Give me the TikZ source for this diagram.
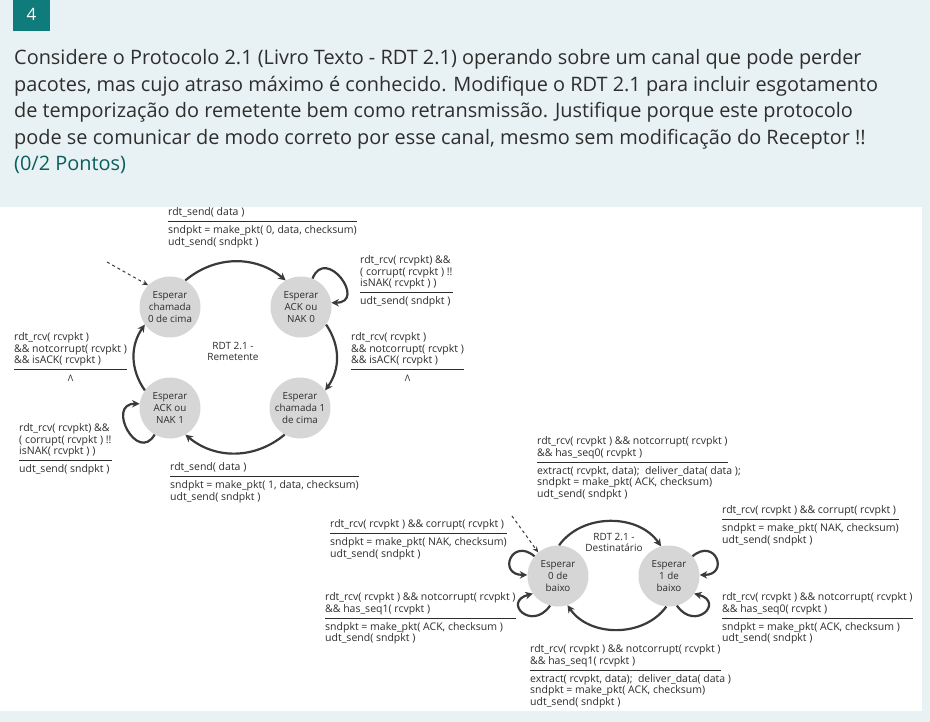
\documentclass[tikz,border=0pt]{standalone}
\usepackage{fontspec}
\setmainfont{Open Sans}
\newfontfamily\dgfont{Open Sans}
\usetikzlibrary{arrows.meta}
\definecolor{bgc}{HTML}{E8F1F3}
\definecolor{tealbox}{HTML}{0F7B7B}
\definecolor{qtext}{HTML}{2E2E2E}
\definecolor{ptsc}{HTML}{0B5E5E}
\definecolor{stfill}{HTML}{D6D6D6}
\definecolor{dg}{HTML}{2C2C2C}
\definecolor{ac}{HTML}{3A3A3A}
\setlength{\arrayrulewidth}{0.9pt}
\newcommand\evact[2]{\begin{tabular}{@{}l@{}}#1\\[1.8pt]\hline\noalign{\vskip3.6pt}#2\end{tabular}}
\newcommand\lamrow{\multicolumn{1}{@{}c@{}}{\fontsize{9}{10}\selectfont Λ}}
\begin{document}
\begin{tikzpicture}[x=1pt,y=1pt,
  qline/.style={anchor=base west,inner sep=0,text=qtext,font=\fontsize{19.9}{26}\selectfont},
  lbl/.style={anchor=north west,inner sep=0,text=dg,font=\dgfont\fontsize{10.5}{11.5}\selectfont},
  st/.style={circle,fill=stfill,minimum size=61pt,inner sep=0,align=center,text=dg,
    font=\dgfont\fontsize{9.8}{11.7}\selectfont},
  ctr/.style={align=center,text=dg,inner sep=0,font=\dgfont\fontsize{10}{11}\selectfont},
  arr/.style={draw=ac,line width=2.2pt,-{Stealth[length=7.5pt,width=7.5pt]}},
  darr/.style={draw=ac,line width=1pt,dashed,-{Stealth[length=6pt,width=5pt]}}]
\useasboundingbox (0,0) rectangle (930,-722);
\fill[bgc] (0,0) rectangle (930,-722);
\fill[white] (0,-207) rectangle (922,-711);
\fill[tealbox] (13,0) rectangle (50,-31);
\node[text=white,inner sep=0,font=\fontsize{17}{17}\selectfont] (num) at (31.5,-14) {4};
\node[qline] (q1) at (14,-65) {Considere o Protocolo 2.1 (Livro Texto - RDT 2.1) operando sobre um canal que pode perder};
\node[qline] (q2) at (14,-91.5) {pacotes, mas cujo atraso máximo é conhecido. Modifique o RDT 2.1 para incluir esgotamento};
\node[qline] (q3) at (14,-118) {de temporização do remetente bem como retransmissão. Justifique porque este protocolo};
\node[qline] (q4) at (14,-144.5) {pode se comunicar de modo correto por esse canal, mesmo sem modificação do Receptor !!};
\node[qline,text=ptsc] (q5) at (14,-171) {(0/2 Pontos)};

% ---------- Sender ----------
\node[st] (s0) at (170,-307) {Esperar\\chamada\\0 de cima};
\node[st] (s1) at (301,-307) {Esperar\\ACK ou\\NAK 0};
\node[st] (s2) at (170,-408) {Esperar\\ACK ou\\NAK 1};
\node[st] (s3) at (300,-408) {Esperar\\chamada 1\\de cima};
\node[ctr] (sc) at (233,-351) {RDT 2.1 -\\Remetente};
\coordinate (sinit) at (107,-262);
\draw[darr] (sinit) -- (s0.135);
\draw[arr] (s0.60) to[bend left=40] (s1.120);
\draw[arr] (s1.-35) to[bend left=35] (s3.35);
\draw[arr] (s3.-120) to[bend left=40] (s2.-60);
\draw[arr] (s2.145) to[bend left=35] (s0.-145);
\draw[arr] (s1.68) to[out=68,in=0,distance=36pt] (s1.8);
\draw[arr] (s2.-120) to[out=-120,in=180,distance=34pt] (s2.172);

\node[lbl] (l1) at (168,-207.6) {\evact{rdt\_send( data )}{sndpkt = make\_pkt( 0, data, checksum)\\udt\_send( sndpkt )}};
\node[lbl] (l2) at (360,-255.6) {\evact{rdt\_rcv( rcvpkt) \&\&\\( corrupt( rcvpkt ) !!\\isNAK( rcvpkt ) )}{udt\_send( sndpkt )}};
\node[lbl] (l3) at (14,-332.6) {\evact{rdt\_rcv( rcvpkt )\\\&\& notcorrupt( rcvpkt )\\\&\& isACK( rcvpkt )}{\lamrow}};
\node[lbl] (l4) at (351,-332.6) {\evact{rdt\_rcv( rcvpkt )\\\&\& notcorrupt( rcvpkt )\\\&\& isACK( rcvpkt )}{\lamrow}};
\node[lbl] (l5) at (19,-423.6) {\evact{rdt\_rcv( rcvpkt) \&\&\\( corrupt( rcvpkt ) !!\\isNAK( rcvpkt ) )}{udt\_send( sndpkt )}};
\node[lbl] (l6) at (170,-462.6) {\evact{rdt\_send( data )}{sndpkt = make\_pkt( 1, data, checksum)\\udt\_send( sndpkt )}};

% ---------- Receiver ----------
\node[st] (r0) at (558,-576) {Esperar\\0 de\\baixo};
\node[st] (r1) at (669,-576) {Esperar\\1 de\\baixo};
\node[ctr] (rc) at (614,-542) {RDT 2.1 -\\Destinatário};
\coordinate (rinit) at (512,-516);
\draw[darr] (rinit) -- (r0.130);
\draw[arr] (r0.88) to[bend left=55] (r1.105);
\draw[arr] (r1.-95) to[bend left=55] (r0.-72);
\draw[arr] (r0.140) to[out=140,in=180,distance=30pt] (r0.178);
\draw[arr] (r0.-105) to[out=-125,in=-165,distance=32pt] (r0.-145);
\draw[arr] (r1.40) to[out=40,in=0,distance=30pt] (r1.2);
\draw[arr] (r1.-75) to[out=-55,in=-15,distance=32pt] (r1.-35);

\node[lbl] (m1) at (537,-436.6) {\evact{rdt\_rcv( rcvpkt ) \&\& notcorrupt( rcvpkt )\\\&\& has\_seq0( rcvpkt )}{\rlap{extract( rcvpkt, data);\ \ deliver\_data( data );}\\sndpkt = make\_pkt( ACK, checksum)\\udt\_send( sndpkt )}};
\node[lbl] (m2) at (722,-505.6) {\evact{rdt\_rcv( rcvpkt ) \&\& corrupt( rcvpkt )}{sndpkt = make\_pkt( NAK, checksum)\\udt\_send( sndpkt )}};
\node[lbl] (m3) at (330,-519.6) {\evact{rdt\_rcv( rcvpkt ) \&\& corrupt( rcvpkt )}{sndpkt = make\_pkt( NAK, checksum)\\udt\_send( sndpkt )}};
\node[lbl] (m4) at (325,-592.6) {\evact{rdt\_rcv( rcvpkt ) \&\& notcorrupt( rcvpkt )\\\&\& has\_seq1( rcvpkt )}{sndpkt = make\_pkt( ACK, checksum )\\udt\_send( sndpkt )}};
\node[lbl] (m5) at (722,-592.6) {\evact{rdt\_rcv( rcvpkt ) \&\& notcorrupt( rcvpkt )\\\&\& has\_seq0( rcvpkt )}{sndpkt = make\_pkt( ACK, checksum )\\udt\_send( sndpkt )}};
\node[lbl] (m6) at (530,-644.6) {\evact{rdt\_rcv( rcvpkt ) \&\& notcorrupt( rcvpkt )\\\&\& has\_seq1( rcvpkt )}{\rlap{extract( rcvpkt, data);\ \ deliver\_data( data )}\\sndpkt = make\_pkt( ACK, checksum)\\udt\_send( sndpkt )}};
\end{tikzpicture}
\end{document}
